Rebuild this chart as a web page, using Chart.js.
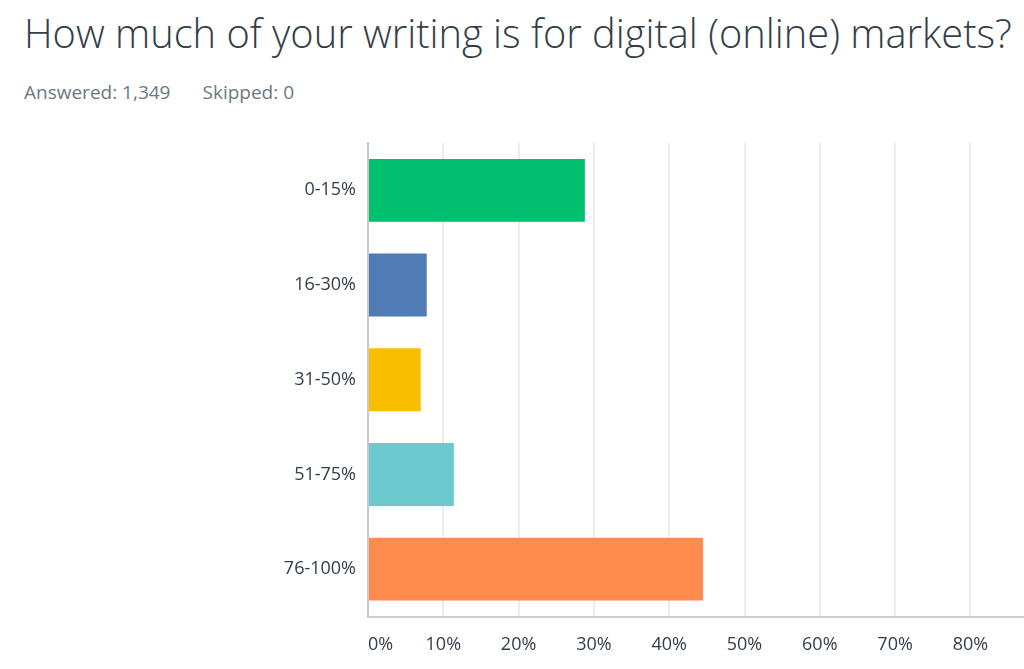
<!DOCTYPE html>
<html>
<head>
<meta charset="utf-8">
<script src="https://cdn.jsdelivr.net/npm/chart.js@4/dist/chart.umd.min.js"></script>
<style>
  html, body { margin: 0; padding: 0; background: #ffffff; overflow: hidden; width: 1024px; height: 669px; }
  #title { position: absolute; left: 24px; top: 5px; font-family: "Open Sans", sans-serif; font-weight: 300; font-size: 39.8px; color: #333e48; white-space: nowrap; margin: 0; }
  #sub { position: absolute; left: 24px; top: 79px; font-family: "Open Sans", sans-serif; font-size: 19px; color: #6b787f; white-space: nowrap; }
  #sub span { margin-right: 32px; }
  #wrap { position: absolute; left: 0; top: 0; width: 1140px; height: 669px; }
</style>
</head>
<body>
<h1 id="title">How much of your writing is for digital (online) markets?</h1>
<div id="sub"><span>Answered: 1,349</span><span>Skipped: 0</span></div>
<div id="wrap"><canvas id="c"></canvas></div>
<script>
const categories = ["0-15%", "16-30%", "31-50%", "51-75%", "76-100%"];
const values = [28.8, 7.8, 7.0, 11.4, 44.5];
const barColors = ["#00bf6f", "#507cb6", "#f9be00", "#6bc8cd", "#ff8b4f"];
const xTicks = [0, 10, 20, 30, 40, 50, 60, 70, 80, 90, 100];

new Chart(document.getElementById("c"), {
  type: "bar",
  data: {
    labels: categories,
    datasets: [{
      data: values,
      backgroundColor: barColors,
      borderWidth: 0,
      barPercentage: 0.664,
      categoryPercentage: 1.0
    }]
  },
  options: {
    indexAxis: "y",
    responsive: true,
    maintainAspectRatio: false,
    animation: false,
    layout: { padding: { top: 143, left: 0, right: 19, bottom: 0 } },
    plugins: { legend: { display: false }, tooltip: { enabled: false } },
    scales: {
      x: {
        min: 0, max: 100,
        afterBuildTicks: (s) => { s.ticks = xTicks.map(v => ({ value: v })); },
        afterFit: (s) => { s.height = 52.5; },
        grid: { color: "#ececec", lineWidth: 2, drawTicks: false },
        border: { color: "#cfcfcf", width: 2 },
        ticks: {
          padding: 18,
          align: "inner",
          color: "#333e48",
          font: { family: "Open Sans", size: 18 },
          callback: (v) => v + "%"
        }
      },
      y: {
        afterFit: (s) => { s.width = 368; },
        grid: { display: false, drawTicks: false },
        border: { color: "#c8c8c8", width: 2 },
        ticks: {
          padding: 12,
          color: "#333e48",
          font: { family: "Open Sans", size: 18 }
        }
      }
    }
  }
});
</script>
</body>
</html>
